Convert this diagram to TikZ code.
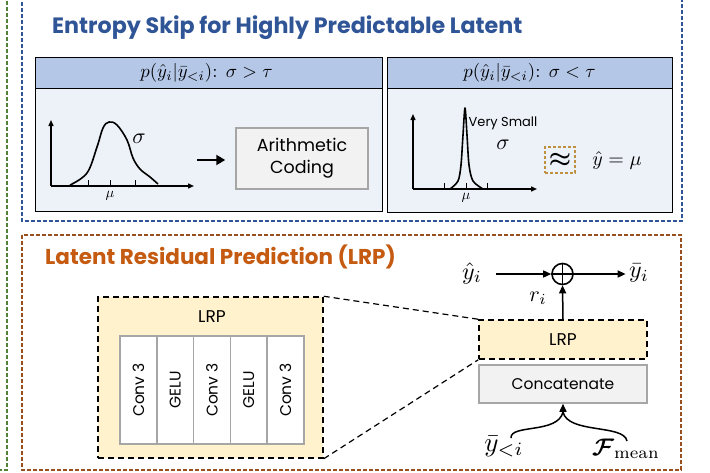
\documentclass[tikz,border=0pt]{standalone}
\usepackage{amsmath,bm}
\usepackage{fontspec}
\usetikzlibrary{arrows.meta,calc}
\newfontfamily\hand{Poppins}
\definecolor{skipblue}{HTML}{2F5597}
\definecolor{framebrown}{HTML}{9A4F1E}
\definecolor{titlebrown}{HTML}{C55A11}
\definecolor{framegreen}{HTML}{548235}
\definecolor{headfill}{HTML}{B4C7E7}
\definecolor{bodyfill}{HTML}{EDF2F9}
\definecolor{boxgray}{HTML}{A6A6A6}
\definecolor{lightgray}{HTML}{F2F2F2}
\definecolor{lrpfill}{HTML}{FFF2CC}
\definecolor{gold}{HTML}{BF9040}
\tikzset{
  outerdash/.style={line width=1.3pt, dash pattern=on 4pt off 2pt},
  sectiontitle/.style={font=\hand\bfseries\fontsize{21.5}{24}\selectfont, anchor=west, inner sep=0pt},
  panelframe/.style={draw=black, line width=1pt},
  axis/.style={line width=1.4pt, -{Triangle[length=6pt,width=5pt]}},
  curve/.style={line width=1.6pt, line join=round},
  tick/.style={line width=0.9pt},
  grayblock/.style={draw=boxgray, line width=1.5pt, fill=lightgray},
  lrpblock/.style={draw=black, line width=1.5pt, dash pattern=on 6pt off 4pt, fill=lrpfill},
  layer/.style={draw=boxgray, line width=1.5pt, fill=white},
  handtext/.style={font=\hand\fontsize{15.5}{18}\selectfont, inner sep=0pt},
  mathlbl/.style={scale=#1, inner sep=0pt},
  flow/.style={line width=1.5pt, -{Triangle[length=8pt,width=7pt]}},
  zoomline/.style={line width=1.2pt, dash pattern=on 6pt off 4pt},
}
\begin{document}
\begin{tikzpicture}[x=1pt,y=-1pt]
\useasboundingbox (0,0) rectangle (710,472);

% enclosing frames
\draw[outerdash, framegreen] (7,-5) -- (7,470) -- (-5,470);
\draw[outerdash, skipblue] (22,-10) rectangle (682,221);
\draw[outerdash, framebrown] (22,235) rectangle (681,470);

% ---------- entropy skip ----------
\node[sectiontitle, text=skipblue, font=\hand\bfseries\fontsize{22.2}{24}\selectfont] (skiptitle) at (52,28) {Entropy Skip for Highly Predictable Latent};

% left panel: sigma > tau
\fill[bodyfill] (35,88) rectangle (382,211);
\fill[headfill] (35,57) rectangle (382,88);
\draw[panelframe] (35,57) rectangle (382,211) (35,88) -- (382,88);
\node[mathlbl=1.88] (headA) at (206.5,72.5) {$p(\hat{y}_i|\bar{y}_{<i})$: $\sigma>\tau$};

\coordinate (oA) at (51,186);
\coordinate (yA) at (51,120);
\coordinate (xA) at (194,186);
\draw[axis] (oA) -- (yA);
\draw[axis] (oA) -- (xA);
\foreach \t in {88,110,135} \draw[tick] (\t,186) -- (\t,180);
\draw[curve] plot[smooth, tension=0.6] coordinates {(70,185) (87,173) (97,147) (103,128) (109,122) (117,125) (127,140) (133,158) (140,169) (150,177) (158,184)};
\node[mathlbl=1.45] (muA) at (110,196) {$\mu$};
\node[mathlbl=2.2] (sigA) at (139,139) {$\sigma$};

\node[grayblock, minimum width=132pt, minimum height=61pt, align=center, handtext, font=\hand\fontsize{17.5}{22}\selectfont] (arith) at (302,158.5) {Arithmetic\\Coding};
\coordinate (arrowA) at (197,160);
\draw[line width=2.6pt, -{Triangle[length=9pt,width=10pt]}] (arrowA) -- ($(arith.west)+(-10,1.5)$);

% right panel: sigma < tau
\fill[bodyfill] (387,88) rectangle (672,212);
\fill[headfill] (387,57) rectangle (672,88);
\draw[panelframe] (387,57) rectangle (672,212) (387,88) -- (672,88);
\node[mathlbl=1.88] (headB) at (529.5,72.5) {$p(\hat{y}_i|\bar{y}_{<i})$: $\sigma<\tau$};

\coordinate (oB) at (413,189);
\coordinate (yB) at (413,114);
\coordinate (xB) at (537,189);
\draw[axis] (oB) -- (yB);
\draw[axis] (oB) -- (xB);
\foreach \t in {444,466,487} \draw[tick] (\t,189) -- (\t,183);
\draw[curve] plot[smooth, tension=0.5] coordinates {(450,189) (458,181) (461,165) (463,135) (465,108) (467,135) (469,165) (473,181) (483,189)};
\node[mathlbl=1.45] (muB) at (466,198) {$\mu$};
\node[handtext, font=\hand\fontsize{13}{15}\selectfont] (verysmall) at (503,123) {Very Small};
\node[mathlbl=2.2] (sigB) at (503,145) {$\sigma$};

\node[draw=gold, line width=1.3pt, dash pattern=on 3pt off 2pt, minimum width=30pt, minimum height=26pt, inner sep=0pt] (approx) at (560,160) {};
\node[mathlbl=2.5] (approxsign) at (approx.center) {$\bm{\approx}$};
\node[mathlbl=2.0] (assign) at (617,160) {$\hat{y}=\mu$};

% ---------- latent residual prediction ----------
\node[sectiontitle, text=titlebrown] (lrptitle) at (45,257) {Latent Residual Prediction (LRP)};

% expanded LRP block
\node[lrpblock, minimum width=225pt, minimum height=161pt] (lrpbig) at (210.5,377.5) {};
\node[handtext, font=\hand\fontsize{17}{19}\selectfont] (lrpbiglabel) at (212,317) {LRP};
\foreach \i/\lbl in {0/Conv 3,1/GELU,2/Conv 3,3/GELU,4/Conv 3} {
  \node[layer, minimum width=36.8pt, minimum height=108pt, inner sep=0pt] (layer\i) at ({138.4+36.8*\i},390) {};
  \node[handtext, rotate=90] (layertext\i) at (layer\i) {\lbl};
}

% compact pipeline
\node[lrpblock, minimum width=168pt, minimum height=39pt, handtext, font=\hand\fontsize{17}{19}\selectfont] (lrpsmall) at (563,339.5) {LRP};
\node[grayblock, minimum width=168pt, minimum height=38pt, handtext] (concat) at (563,384) {Concatenate};

\draw[zoomline] (lrpbig.north east) -- (lrpsmall.north west);
\draw[zoomline] (lrpbig.south east) -- (lrpsmall.south west);

% residual addition
\node[circle, draw, line width=1.6pt, minimum size=21pt, inner sep=0pt] (sum) at (562.5,274) {};
\draw[line width=1.6pt] (sum.north) -- (sum.south) (sum.west) -- (sum.east);
\node[mathlbl=2.4] (yhat) at (472,273) {$\hat{y}_i$};
\node[mathlbl=2.4] (ybar) at (639,273) {$\bar{y}_i$};
\draw[flow] ($(yhat.east)+(14,1)$) -- (sum.west);
\draw[flow] (sum.east) -- ($(ybar.west)+(-3,1)$);
\draw[flow] (lrpsmall.north) -- (sum.south);
\node[mathlbl=2.2] (ri) at (538,298) {$r_i$};

% inputs merged by a brace into the concatenation
\node[mathlbl=2.7] (yprev) at (504,447) {$\bar{y}_{<i}$};
\node[mathlbl=2.4] (fmean) at (626,449) {$\bm{\mathcal{F}}_{\text{mean}}$};
\coordinate (bracetip) at (563,412);
\draw[line width=1.5pt] (511,438) .. controls (510,424) and (558,434) .. (bracetip);
\draw[line width=1.5pt] (627,441) .. controls (624,424) and (568,434) .. (bracetip);
\draw[flow] (bracetip) -- (concat.south);
\end{tikzpicture}
\end{document}
